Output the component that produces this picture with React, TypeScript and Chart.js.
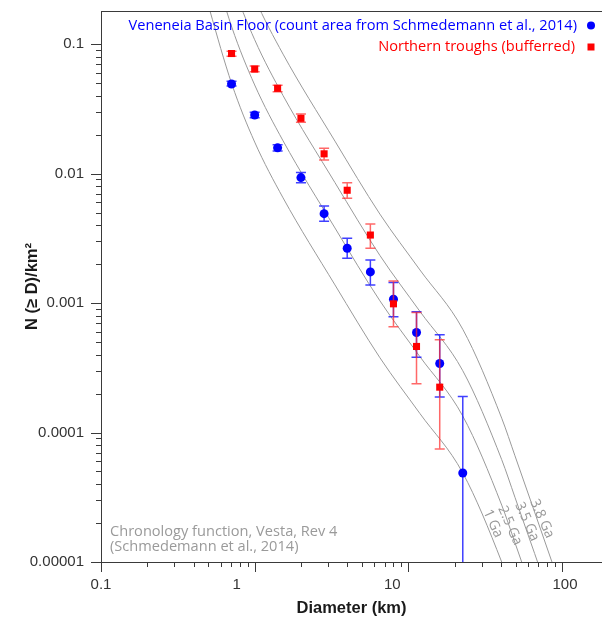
import React, { useEffect, useRef } from 'react';
import { Chart, registerables } from 'chart.js';

Chart.register(...registerables);

// ---------- data ----------
const BLUE_D = [0.707, 1, 1.41, 2, 2.83, 4, 5.66, 8, 11.3, 16, 22.6];
const BLUE_N = [0.0491, 0.0283, 0.0158, 0.0093, 0.0049, 0.00265, 0.00174, 0.00107, 0.000592, 0.000341, 0.0000487];
const BLUE_HI = [0.0516, 0.0297, 0.0167, 0.0102, 0.00562, 0.00317, 0.00215, 0.00144, 0.000855, 0.000568, 0.00019];
const BLUE_LO = [0.0474, 0.027, 0.0149, 0.0085, 0.00428, 0.00222, 0.00138, 0.000783, 0.000382, 0.000188, 0];

const RED_D = [0.707, 1, 1.41, 2, 2.83, 4, 5.66, 8, 11.3, 16];
const RED_N = [0.0845, 0.0641, 0.0455, 0.0267, 0.0142, 0.00743, 0.00335, 0.000986, 0.000462, 0.000224];
const RED_HI = [0.0879, 0.0676, 0.048, 0.0288, 0.0157, 0.0085, 0.00408, 0.00148, 0.000845, 0.00052];
const RED_LO = [0.0804, 0.0611, 0.0428, 0.0249, 0.0127, 0.00645, 0.00265, 0.000655, 0.000238, 0.0000746];

const ISO_D = [0.47, 0.51, 0.71, 1.0, 1.53, 3.33, 6.53, 11.9, 22.6, 40.5, 49.4, 89, 112];
const ISO_1GA = [0.261, 0.183, 0.0491, 0.0175, 0.00649, 0.00138, 0.000378, 0.00014, 0.0000487, 0.00001, 0.00000513, 0.00000069, 0.00000032];
const ISO_25GA = [0.719, 0.504, 0.135, 0.0483, 0.0179, 0.0038, 0.00104, 0.000385, 0.000134, 0.0000275, 0.0000141, 0.0000019, 0.00000087];
const ISO_35GA = [1.61, 1.13, 0.303, 0.108, 0.04, 0.00851, 0.00233, 0.000861, 0.0003, 0.0000617, 0.0000316, 0.00000427, 0.00000195];
const ISO_38GA = [3.37, 2.36, 0.632, 0.226, 0.0836, 0.0178, 0.00486, 0.0018, 0.000627, 0.000129, 0.0000661, 0.0000089, 0.00000407];
const ISO_NAMES = ['1 Ga', '2.5 Ga', '3.5 Ga', '3.8 Ga'];
const ISO_LABEL_D = [35.5, 45.8, 59.1, 74.0];
const ISO_LABEL_N = [0.0000198, 0.0000191, 0.0000205, 0.0000216];

const SERIES_NAMES = ['Veneneia Basin Floor (count area from Schmedemann et al., 2014)', 'Northern troughs (bufferred)'];
const NOTE_LINES = ['Chronology function, Vesta, Rev 4', '(Schmedemann et al., 2014)'];

const X_TICKS = [0.1, 0.2, 0.3, 0.4, 0.5, 0.6, 0.7, 0.8, 0.9, 1, 2, 3, 4, 5, 6, 7, 8, 9, 10, 20, 30, 40, 50, 60, 70, 80, 90, 100];
const X_MAJOR = [0.1, 1, 10, 100];
const X_LABELS = ['0.1', '1', '10', '100'];
const Y_TICKS = [0.00001, 0.00002, 0.00003, 0.00004, 0.00005, 0.00006, 0.00007, 0.00008, 0.00009,
  0.0001, 0.0002, 0.0003, 0.0004, 0.0005, 0.0006, 0.0007, 0.0008, 0.0009,
  0.001, 0.002, 0.003, 0.004, 0.005, 0.006, 0.007, 0.008, 0.009,
  0.01, 0.02, 0.03, 0.04, 0.05, 0.06, 0.07, 0.08, 0.09, 0.1];
const Y_MAJOR = [0.00001, 0.0001, 0.001, 0.01, 0.1];
const Y_LABELS = ['0.00001', '0.0001', '0.001', '0.01', '0.1'];

const X_MIN = 0.1, X_MAX = 182, Y_MIN = 0.00001, Y_MAX = 0.18;

// ---------- styles ----------
const AXIS_COLOR = '#3a3a3a';
const TEXT_COLOR = '#333333';
const ISO_COLOR = '#9a9a9a';
const NOTE_COLOR = '#9a9a9a';
const BLUE = '#0000ff';
const RED = '#ff0000';
const SANS = '"Open Sans", "Noto Sans", sans-serif';
const ARIAL = '"Liberation Sans", Arial, sans-serif';
const X_LABEL_SHIFT = [0, -18, -16, 3]; // the reference's x labels sit slightly off their ticks

const pts = (xs: number[], ys: number[]) => xs.map((x, i) => ({ x, y: ys[i] }));

const errorBarPlugin = {
  id: 'errbars',
  beforeDatasetDraw(chart: any, args: any) {
    const ds = chart.data.datasets[args.index];
    if (!ds.errHi) return;
    const { ctx, chartArea: a } = chart;
    const xs = chart.scales.x, ys = chart.scales.y;
    ctx.save();
    ctx.beginPath();
    ctx.rect(a.left, a.top, a.right - a.left, a.bottom - a.top);
    ctx.clip();
    ctx.strokeStyle = ds.errColor;
    ctx.lineWidth = 1.5;
    ds.data.forEach((p: any, i: number) => {
      const x = xs.getPixelForValue(p.x);
      const yh = ys.getPixelForValue(ds.errHi[i]);
      const lo = ds.errLo[i];
      const yl = lo > 0 ? ys.getPixelForValue(lo) : a.bottom + 2;
      ctx.beginPath();
      ctx.moveTo(x, yh); ctx.lineTo(x, yl);
      ctx.moveTo(x - 5, yh); ctx.lineTo(x + 5, yh);
      if (lo > 0) { ctx.moveTo(x - 5, yl); ctx.lineTo(x + 5, yl); }
      ctx.stroke();
    });
    ctx.restore();
  },
};

const decoPlugin = {
  id: 'deco',
  afterDatasetsDraw(chart: any) {
    const { ctx } = chart;
    const xs = chart.scales.x, ys = chart.scales.y;
    ctx.save();
    ctx.fillStyle = NOTE_COLOR;
    ctx.font = `14px ${SANS}`;
    ctx.textAlign = 'center';
    ctx.textBaseline = 'middle';
    ISO_NAMES.forEach((t, i) => {
      const x = xs.getPixelForValue(ISO_LABEL_D[i]);
      const y = ys.getPixelForValue(ISO_LABEL_N[i]);
      ctx.save();
      ctx.translate(x, y);
      ctx.rotate((66 * Math.PI) / 180);
      ctx.fillText(t, 0, 0);
      ctx.restore();
    });
    ctx.restore();
  },
  afterDraw(chart: any) {
    const { ctx, chartArea: a } = chart;
    const xs = chart.scales.x, ys = chart.scales.y;
    ctx.save();
    // tick marks and top frame
    ctx.strokeStyle = AXIS_COLOR;
    ctx.lineWidth = 1;
    ctx.beginPath();
    X_TICKS.forEach((v) => {
      const x = Math.round(xs.getPixelForValue(v)) + 0.5;
      const len = X_MAJOR.includes(v) ? 10 : 5;
      ctx.moveTo(x, a.bottom); ctx.lineTo(x, a.bottom + len);
    });
    Y_TICKS.forEach((v) => {
      const y = Math.round(ys.getPixelForValue(v)) + 0.5;
      const len = Y_MAJOR.includes(v) ? 10 : 5;
      ctx.moveTo(a.left, y); ctx.lineTo(a.left - len, y);
    });
    ctx.moveTo(a.left, a.top + 0.5); ctx.lineTo(a.right, a.top + 0.5);
    ctx.stroke();

    // x tick labels
    ctx.fillStyle = TEXT_COLOR;
    ctx.font = `15px ${ARIAL}`;
    ctx.textAlign = 'center';
    ctx.textBaseline = 'middle';
    X_MAJOR.forEach((v, i) => {
      ctx.fillText(X_LABELS[i], xs.getPixelForValue(v) + X_LABEL_SHIFT[i], a.bottom + 23);
    });

    // legend (top right, marker right of text)
    ctx.font = `14.6px ${SANS}`;
    ctx.textAlign = 'right';
    ctx.textBaseline = 'middle';
    const ly = [a.top + 14.5, a.top + 36];
    ctx.fillStyle = BLUE;
    ctx.fillText(SERIES_NAMES[0], a.right - 25, ly[0]);
    ctx.beginPath(); ctx.arc(a.right - 11, ly[0], 4, 0, Math.PI * 2); ctx.fill();
    ctx.fillStyle = RED;
    ctx.fillText(SERIES_NAMES[1], a.right - 27, ly[1]);
    ctx.fillRect(a.right - 14.5, ly[1] - 3.5, 7, 7);

    // chronology note
    ctx.fillStyle = NOTE_COLOR;
    ctx.font = `14.6px ${SANS}`;
    ctx.textAlign = 'left';
    ctx.fillText(NOTE_LINES[0], a.left + 9, a.bottom - 30.5);
    ctx.fillText(NOTE_LINES[1], a.left + 9, a.bottom - 15.5);
    ctx.restore();
  },
};

export default function App() {
  const ref = useRef<HTMLCanvasElement>(null);
  useEffect(() => {
    document.body.style.margin = '0';
    const isoDs = (ys: number[]) => ({
      data: pts(ISO_D, ys),
      showLine: true,
      pointRadius: 0,
      borderColor: ISO_COLOR,
      borderWidth: 1,
      cubicInterpolationMode: 'monotone',
      order: 5,
    });
    const chart = new Chart(ref.current as HTMLCanvasElement, {
      type: 'scatter',
      data: {
        datasets: [
          {
            label: SERIES_NAMES[0],
            data: pts(BLUE_D, BLUE_N),
            pointStyle: 'circle',
            pointRadius: 4.5,
            backgroundColor: BLUE,
            borderWidth: 0,
            order: 1,
            errHi: BLUE_HI, errLo: BLUE_LO, errColor: 'rgba(30,30,255,0.85)',
          } as any,
          {
            label: SERIES_NAMES[1],
            data: pts(RED_D, RED_N),
            pointStyle: 'rect',
            pointRadius: 5,
            backgroundColor: RED,
            borderWidth: 0,
            order: 0,
            errHi: RED_HI, errLo: RED_LO, errColor: 'rgba(255,40,40,0.7)',
          } as any,
          isoDs(ISO_1GA) as any,
          isoDs(ISO_25GA) as any,
          isoDs(ISO_35GA) as any,
          isoDs(ISO_38GA) as any,
        ],
      },
      options: {
        responsive: false,
        animation: false,
        events: [],
        layout: { autoPadding: false, padding: { top: 11, right: 0, left: 0, bottom: 0 } },
        plugins: { legend: { display: false }, tooltip: { enabled: false } },
        scales: {
          x: {
            type: 'logarithmic',
            position: 'bottom',
            min: X_MIN,
            max: X_MAX,
            afterBuildTicks: (s: any) => { s.ticks = X_TICKS.map((v) => ({ value: v })); },
            afterFit: (s: any) => { s.height = 55; s.paddingLeft = 0; s.paddingRight = 0; },
            grid: { display: true, drawOnChartArea: false, drawTicks: true, tickLength: 10, tickColor: 'rgba(0,0,0,0)' },
            border: { display: true, color: AXIS_COLOR, width: 1 },
            ticks: { display: false, autoSkip: false, maxRotation: 0, minRotation: 0 },
            title: {
              display: true, text: 'Diameter (km)', color: '#1a1a1a',
              font: { family: ARIAL, size: 16.5, weight: 'bold', lineHeight: 1 },
              padding: { top: 0, bottom: 0 },
            },
          },
          y: {
            type: 'logarithmic',
            position: 'left',
            min: Y_MIN,
            max: Y_MAX,
            afterBuildTicks: (s: any) => { s.ticks = Y_TICKS.map((v) => ({ value: v })); },
            afterFit: (s: any) => { s.width = 101; s.paddingTop = 0; s.paddingBottom = 0; },
            grid: { display: true, drawOnChartArea: false, drawTicks: true, tickLength: 10, tickColor: 'rgba(0,0,0,0)' },
            border: { display: true, color: AXIS_COLOR, width: 1 },
            ticks: {
              autoSkip: false, padding: 7,
              color: TEXT_COLOR,
              font: { family: ARIAL, size: 15 },
              callback: (v: any) => { const k = Y_MAJOR.indexOf(Number(v)); return k >= 0 ? Y_LABELS[k] : ''; },
            },
            title: {
              display: true, text: 'N (≥ D)/km²', color: '#1a1a1a',
              font: { family: ARIAL, size: 16.5, weight: 'bold', lineHeight: 1.2 },
              padding: { top: 23, bottom: 0 },
            },
          },
        },
      } as any,
      plugins: [errorBarPlugin, decoPlugin],
    });
    return () => chart.destroy();
  }, []);
  return (
    <div style={{ width: 602, height: 617 }}>
      <canvas ref={ref} width={602} height={617} style={{ display: 'block' }} />
    </div>
  );
}
